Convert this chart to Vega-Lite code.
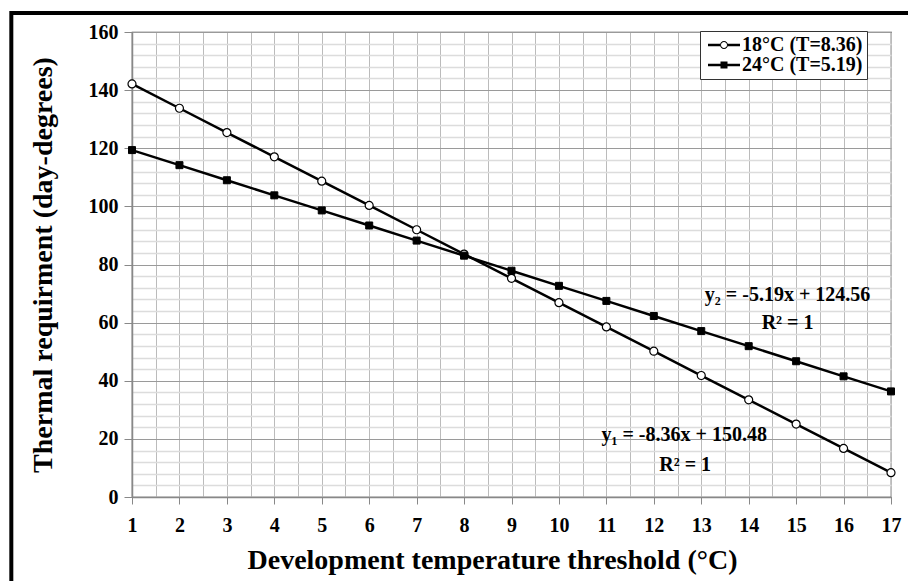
{
  "$schema": "https://vega.github.io/schema/vega-lite/v6.json",
  "width": 759,
  "height": 465,
  "autosize": {"type": "none"},
  "padding": {"left": 132, "top": 32, "right": 17, "bottom": 84},
  "background": "white",
  "config": {
    "view": {"stroke": "#444", "strokeWidth": 1.2},
    "font": "Liberation Serif"
  },
  "datasets": {
    "series": [
      {"t": 1, "v": 142.12, "s": "18°C (T=8.36)"},
      {"t": 2, "v": 133.76, "s": "18°C (T=8.36)"},
      {"t": 3, "v": 125.4, "s": "18°C (T=8.36)"},
      {"t": 4, "v": 117.04, "s": "18°C (T=8.36)"},
      {"t": 5, "v": 108.68, "s": "18°C (T=8.36)"},
      {"t": 6, "v": 100.32, "s": "18°C (T=8.36)"},
      {"t": 7, "v": 91.96, "s": "18°C (T=8.36)"},
      {"t": 8, "v": 83.6, "s": "18°C (T=8.36)"},
      {"t": 9, "v": 75.24, "s": "18°C (T=8.36)"},
      {"t": 10, "v": 66.88, "s": "18°C (T=8.36)"},
      {"t": 11, "v": 58.52, "s": "18°C (T=8.36)"},
      {"t": 12, "v": 50.16, "s": "18°C (T=8.36)"},
      {"t": 13, "v": 41.8, "s": "18°C (T=8.36)"},
      {"t": 14, "v": 33.44, "s": "18°C (T=8.36)"},
      {"t": 15, "v": 25.08, "s": "18°C (T=8.36)"},
      {"t": 16, "v": 16.72, "s": "18°C (T=8.36)"},
      {"t": 17, "v": 8.36, "s": "18°C (T=8.36)"},
      {"t": 1, "v": 119.37, "s": "24°C (T=5.19)"},
      {"t": 2, "v": 114.18, "s": "24°C (T=5.19)"},
      {"t": 3, "v": 108.99, "s": "24°C (T=5.19)"},
      {"t": 4, "v": 103.8, "s": "24°C (T=5.19)"},
      {"t": 5, "v": 98.61, "s": "24°C (T=5.19)"},
      {"t": 6, "v": 93.42, "s": "24°C (T=5.19)"},
      {"t": 7, "v": 88.23, "s": "24°C (T=5.19)"},
      {"t": 8, "v": 83.04, "s": "24°C (T=5.19)"},
      {"t": 9, "v": 77.85, "s": "24°C (T=5.19)"},
      {"t": 10, "v": 72.66, "s": "24°C (T=5.19)"},
      {"t": 11, "v": 67.47, "s": "24°C (T=5.19)"},
      {"t": 12, "v": 62.28, "s": "24°C (T=5.19)"},
      {"t": 13, "v": 57.09, "s": "24°C (T=5.19)"},
      {"t": 14, "v": 51.9, "s": "24°C (T=5.19)"},
      {"t": 15, "v": 46.71, "s": "24°C (T=5.19)"},
      {"t": 16, "v": 41.52, "s": "24°C (T=5.19)"},
      {"t": 17, "v": 36.33, "s": "24°C (T=5.19)"}
    ],
    "notes": [
      {"t": 14.82, "v": 69.5, "label": "y₂ = -5.19x + 124.56"},
      {"t": 14.82, "v": 59.9, "label": "R² = 1"},
      {"t": 12.64, "v": 21.3, "label": "y₁ = -8.36x + 150.48"},
      {"t": 12.66, "v": 11.0, "label": "R² = 1"}
    ]
  },
  "resolve": {
    "scale": {"x": "independent", "y": "independent"},
    "axis": {"x": "independent", "y": "independent"}
  },
  "layer": [
    {
      "encoding": {
        "x": {
          "field": "t",
          "type": "quantitative",
          "scale": {"domain": [1, 17], "nice": false, "zero": false},
          "axis": {
            "title": "Development temperature threshold (°C)",
            "titleFont": "Liberation Serif",
            "titleFontSize": 28,
            "titleFontWeight": "bold",
            "titleColor": "black",
            "titlePadding": 11,
            "titleX": 360,
            "values": [1,1.5,2,2.5,3,3.5,4,4.5,5,5.5,6,6.5,7,7.5,8,8.5,9,9.5,10,10.5,11,11.5,12,12.5,13,13.5,14,14.5,15,15.5,16,16.5,17],
            "labelExpr": "datum.value % 1 === 0 ? format(datum.value, 'd') : ''",
            "labelOverlap": false,
            "labelFlush": false,
            "labelFont": "Liberation Serif",
            "labelFontSize": 20,
            "labelFontWeight": "bold",
            "labelColor": "black",
            "labelPadding": 11,
            "tickSize": 7,
            "tickColor": "#888",
            "tickOpacity": {"condition": {"test": "datum.value % 1 === 0", "value": 1}, "value": 0},
            "domainColor": "#888",
            "domainWidth": 1.5,
            "grid": true,
            "gridColor": "#bbb",
            "gridWidth": 1
          }
        },
        "y": {
          "field": "v",
          "type": "quantitative",
          "scale": {"domain": [0, 160], "nice": false},
          "axis": {
            "title": "Thermal requirment (day-degrees)",
            "titleFont": "Liberation Serif",
            "titleFontSize": 28,
            "titleFontWeight": "bold",
            "titleColor": "black",
            "titlePadding": 31,
            "values": [0,4,8,12,16,20,24,28,32,36,40,44,48,52,56,60,64,68,72,76,80,84,88,92,96,100,104,108,112,116,120,124,128,132,136,140,144,148,152,156,160],
            "labelExpr": "datum.value % 20 === 0 ? datum.label : ''",
            "labelOverlap": false,
            "labelFlush": false,
            "labelFont": "Liberation Serif",
            "labelFontSize": 20,
            "labelFontWeight": "bold",
            "labelColor": "black",
            "labelPadding": 6,
            "tickSize": 8,
            "tickColor": "#888",
            "tickOpacity": {"condition": {"test": "datum.value % 20 === 0", "value": 1}, "value": 0},
            "domainColor": "#888",
            "domainWidth": 1.5,
            "grid": true,
            "gridColor": {"condition": {"test": "datum.value % 20 === 0", "value": "#9a9a9a"}, "value": "#dcdcdc"},
            "gridWidth": {"condition": {"test": "datum.value % 20 === 0", "value": 1.2}, "value": 1.5}
          }
        }
      },
      "layer": [
        {
          "data": {"name": "series"},
          "mark": {"type": "line", "color": "black", "strokeWidth": 2.5},
          "encoding": {"detail": {"field": "s"}}
        },
        {
          "data": {"name": "series"},
          "transform": [{"filter": "datum.s === '18°C (T=8.36)'"}],
          "mark": {"type": "point", "shape": "circle", "filled": true, "fill": "white", "stroke": "black", "strokeWidth": 1.2, "opacity": 1, "size": 64}
        },
        {
          "data": {"name": "series"},
          "transform": [{"filter": "datum.s === '24°C (T=5.19)'"}],
          "mark": {"type": "point", "shape": "square", "filled": true, "fill": "black", "stroke": "black", "strokeWidth": 1, "opacity": 1, "size": 49}
        },
        {
          "data": {"name": "series"},
          "mark": {"type": "point", "filled": true, "fill": "black", "strokeWidth": 0, "opacity": 0},
          "encoding": {
            "shape": {
              "field": "s",
              "type": "nominal",
              "scale": {
                "domain": ["18°C (T=8.36)", "24°C (T=5.19)"],
                "range": [
                  "M-6,-1.2H6.2V1.2H-6Z M13.8,-1.2H26V1.2H13.8Z M14,0A4,4 0 1,0 6,0A4,4 0 1,0 14,0Z M13,0A3,3 0 1,1 7,0A3,3 0 1,1 13,0Z",
                  "M-6,-1.2H26V1.2H-6Z M6.5,-3.5H13.5V3.5H6.5Z"
                ]
              },
              "legend": {
                "title": null,
                "orient": "none",
                "legendX": 568,
                "legendY": -1,
                "strokeColor": "#333",
                "fillColor": "white",
                "padding": 4,
                "rowPadding": 0,
                "labelFont": "Liberation Serif",
                "labelFontSize": 20,
                "labelFontWeight": "bold",
                "labelColor": "black",
                "labelOffset": 18,
                "labelLimit": 400,
                "symbolSize": 4,
                "symbolOpacity": 1,
                "symbolFillColor": "black",
                "symbolStrokeWidth": 0,
                "labelExpr": "datum.label + '\u00a0\u00a0\u00a0\u00a0\u00a0'",
                "encode": {
                  "labels": {"update": {"lineHeight": {"value": 10}}}
                }
              }
            }
          }
        },
        {
          "data": {"name": "notes"},
          "mark": {"type": "text", "font": "Liberation Serif", "fontSize": 20, "fontWeight": "bold", "color": "black", "align": "center", "baseline": "middle"},
          "encoding": {"text": {"field": "label"}}
        }
      ]
    },
    {
      "data": {"values": [{"frame": 1}]},
      "mark": {"type": "rect", "filled": false, "stroke": "black", "strokeWidth": 4, "clip": false},
      "encoding": {
        "x": {"datum": -1.544, "type": "quantitative", "scale": {"domain": [1, 17], "nice": false, "zero": false}, "axis": null},
        "x2": {"datum": 18.5},
        "y": {"datum": 166.5, "type": "quantitative", "scale": {"domain": [0, 160], "nice": false, "zero": false}, "axis": null},
        "y2": {"datum": -45}
      }
    }
  ]
}
